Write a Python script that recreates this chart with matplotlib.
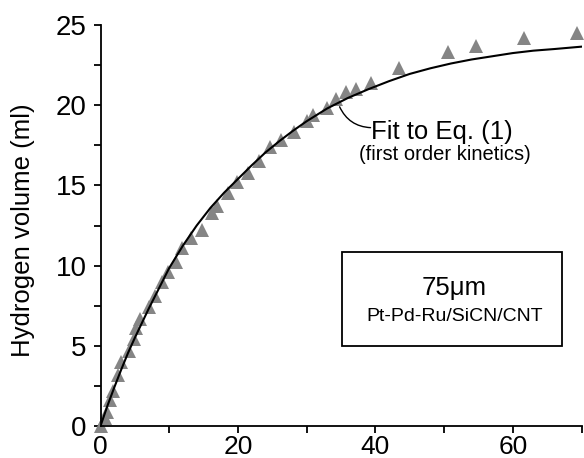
import matplotlib
matplotlib.use("Agg")
import matplotlib.pyplot as plt
from matplotlib.ticker import MultipleLocator
from matplotlib.patches import Rectangle

plt.rcParams['font.family'] = ['Liberation Sans', 'DejaVu Sans']

# measured data (time in min, hydrogen volume in ml)
time_min = [0.0, 0.6, 1.0, 1.4, 1.8, 2.5, 3.0, 4.2, 4.9, 5.2, 5.7, 7.1, 7.9, 9.0,
            9.8, 11.0, 11.8, 13.2, 14.7, 16.2, 16.9, 18.5, 19.8, 21.4, 23.1, 24.6,
            26.3, 28.2, 30.0, 30.9, 32.9, 34.2, 35.8, 37.2, 39.3, 43.5, 50.5, 54.7,
            61.7, 69.3]
volume_ml = [0.0, 0.5, 0.9, 1.6, 2.2, 3.2, 4.0, 4.7, 5.4, 6.1, 6.7, 7.4, 8.1, 9.0,
             9.6, 10.2, 11.1, 11.7, 12.2, 13.3, 13.7, 14.5, 15.2, 15.8, 16.5, 17.4,
             17.8, 18.3, 19.0, 19.4, 19.8, 20.4, 20.8, 21.0, 21.4, 22.3, 23.3, 23.7,
             24.2, 24.5]

# fit curve (Eq. 1, first order kinetics)
fit_t = [0, 1, 2, 3, 4, 5, 6, 7, 8, 9, 10, 12, 14, 16, 18, 20, 22, 24, 26, 28, 30,
         33, 36, 39, 42, 45, 48, 51, 54, 57, 60, 63, 66, 70]
fit_v = [0.0, 1.25, 2.4, 3.5, 4.55, 5.5, 6.4, 7.3, 8.15, 9.0, 9.85, 11.25, 12.5,
         13.6, 14.55, 15.4, 16.25, 17.05, 17.75, 18.4, 19.0, 19.8, 20.45, 21.0,
         21.5, 21.95, 22.3, 22.6, 22.85, 23.05, 23.25, 23.4, 23.5, 23.65]

x_ticks = [0, 20, 40, 60]
y_ticks = [0, 5, 10, 15, 20, 25]

W, H = 584, 458
fig = plt.figure(figsize=(W / 100, H / 100), dpi=100)
ax = fig.add_axes([100.5 / W, (H - 426) / H, 481 / W, 401 / H])

ax.plot(time_min, volume_ml, linestyle='none', marker='^', markersize=9.5,
        color='#858585', markeredgewidth=0, zorder=2, clip_on=False)
ax.plot(fit_t, fit_v, color='black', linewidth=1.5, zorder=3)

ax.set_xlim(0, 70)
ax.set_ylim(0, 25)
ax.set_xticks(x_ticks)
ax.set_yticks(y_ticks)
ax.xaxis.set_minor_locator(MultipleLocator(10))
ax.yaxis.set_minor_locator(MultipleLocator(2.5))
ax.spines['top'].set_visible(False)
ax.spines['right'].set_visible(False)
for s in ['left', 'bottom']:
    ax.spines[s].set_linewidth(1.3)
ax.tick_params(which='both', direction='out', length=5, width=1.3, labelsize=20)
ax.tick_params(axis='y', pad=5)
ax.tick_params(axis='x', pad=1.5, labelsize=19)

fig.text(23 / W, (H - 230) / H, 'Hydrogen volume (ml)', fontsize=18.5,
         rotation=90, ha='center', va='center')

# annotation
ax.annotate('', xy=(34.8, 19.9), xytext=(39.3, 18.6),
            arrowprops=dict(arrowstyle='-', color='black', lw=1.0,
                            shrinkA=0, shrinkB=0,
                            connectionstyle='arc3,rad=-0.3'))
ax.text(39.4, 18.3, 'Fit to Eq. (1)', fontsize=18.5, ha='left', va='center')
ax.text(50.1, 16.9, '(first order kinetics)', fontsize=14.5, ha='center', va='center')

# label box
box = Rectangle((35.2, 5.0), 32.0, 5.85, fill=False, edgecolor='black', linewidth=1.3)
ax.add_patch(box)
ax.text(51.5, 8.6, '75\u03bcm', fontsize=18.5, ha='center', va='center')
ax.text(51.5, 6.8, 'Pt-Pd-Ru/SiCN/CNT', fontsize=14, ha='center', va='center')

fig.savefig('out.png', dpi=100)
